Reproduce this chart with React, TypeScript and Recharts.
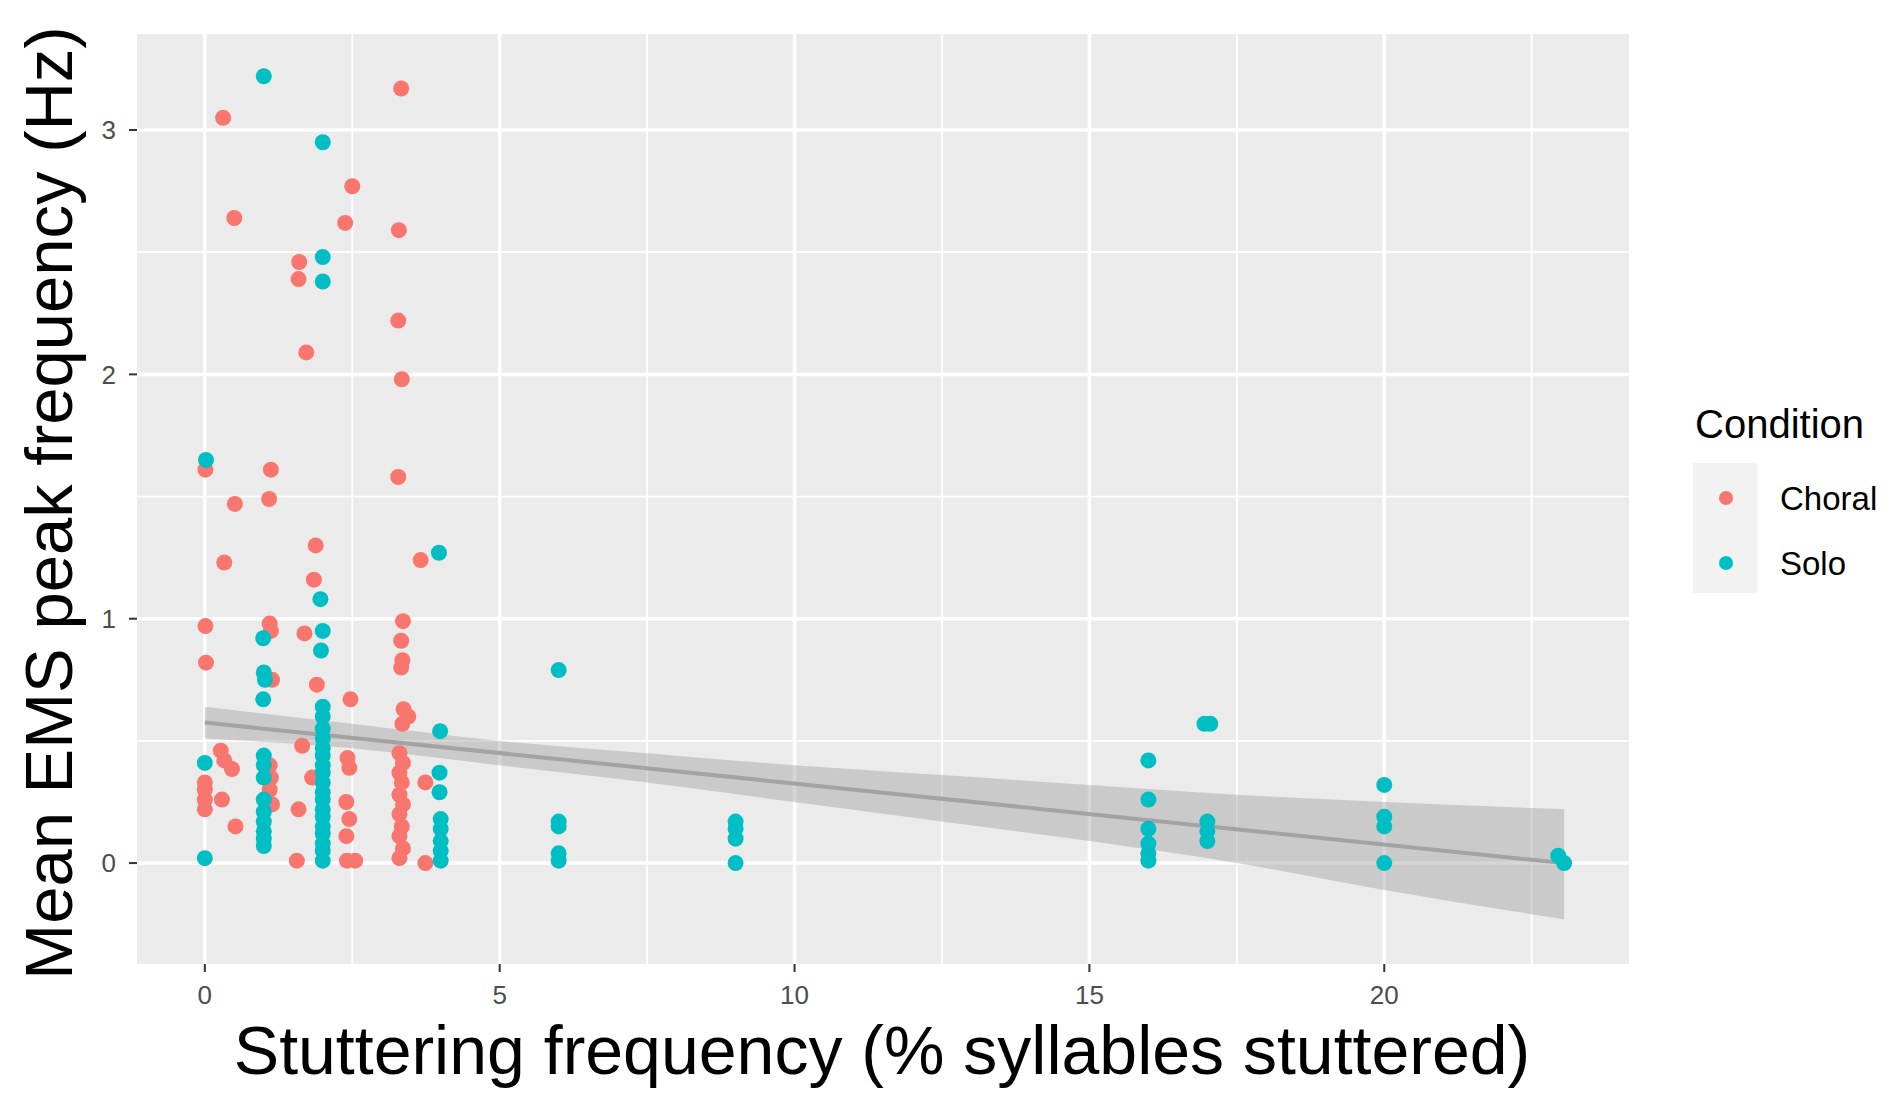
import React from 'react';
import { ComposedChart, Scatter, Area, Line, XAxis, YAxis, CartesianGrid } from 'recharts';

const FONT = '"Liberation Sans", Arial, Helvetica, sans-serif';

const choral = [
  { x: 3.33, y: 3.17 }, { x: 0.31, y: 3.05 }, { x: 2.5, y: 2.77 }, { x: 0.5, y: 2.64 }, { x: 2.38, y: 2.62 },
  { x: 3.29, y: 2.59 }, { x: 1.6, y: 2.46 }, { x: 1.59, y: 2.39 }, { x: 3.28, y: 2.22 }, { x: 1.72, y: 2.09 },
  { x: 3.34, y: 1.98 }, { x: 0.01, y: 1.61 }, { x: 1.12, y: 1.61 }, { x: 3.28, y: 1.58 }, { x: 0.51, y: 1.47 },
  { x: 1.09, y: 1.49 }, { x: 1.88, y: 1.3 }, { x: 3.66, y: 1.24 }, { x: 0.33, y: 1.23 }, { x: 1.85, y: 1.16 },
  { x: 0.01, y: 0.97 }, { x: 1.1, y: 0.98 }, { x: 1.12, y: 0.95 }, { x: 1.69, y: 0.94 }, { x: 3.36, y: 0.99 },
  { x: 3.33, y: 0.91 }, { x: 0.02, y: 0.82 }, { x: 3.35, y: 0.83 }, { x: 3.33, y: 0.8 }, { x: 1.14, y: 0.75 },
  { x: 1.9, y: 0.73 }, { x: 2.47, y: 0.67 }, { x: 3.37, y: 0.63 }, { x: 3.45, y: 0.6 }, { x: 3.35, y: 0.57 },
  { x: 0.27, y: 0.46 }, { x: 0.33, y: 0.42 }, { x: 0.46, y: 0.385 }, { x: 0, y: 0.33 }, { x: 0, y: 0.3 },
  { x: 0, y: 0.26 }, { x: 0, y: 0.22 }, { x: 0.29, y: 0.26 }, { x: 0.52, y: 0.15 },
  { x: 1.1, y: 0.4 }, { x: 1.12, y: 0.35 }, { x: 1.1, y: 0.3 }, { x: 1.14, y: 0.24 },
  { x: 1.65, y: 0.48 }, { x: 1.82, y: 0.35 }, { x: 1.59, y: 0.22 }, { x: 1.56, y: 0.01 },
  { x: 2.42, y: 0.43 }, { x: 2.45, y: 0.39 }, { x: 2.4, y: 0.25 }, { x: 2.45, y: 0.18 }, { x: 2.4, y: 0.11 },
  { x: 2.41, y: 0.01 }, { x: 2.55, y: 0.01 },
  { x: 3.3, y: 0.45 }, { x: 3.36, y: 0.41 }, { x: 3.3, y: 0.37 }, { x: 3.34, y: 0.33 }, { x: 3.3, y: 0.28 },
  { x: 3.36, y: 0.24 }, { x: 3.3, y: 0.2 }, { x: 3.34, y: 0.15 }, { x: 3.3, y: 0.11 }, { x: 3.36, y: 0.06 },
  { x: 3.3, y: 0.02 }, { x: 3.74, y: 0.33 }, { x: 3.74, y: 0.0 },
];

const solo = [
  { x: 1, y: 3.22 }, { x: 2, y: 2.95 }, { x: 2, y: 2.48 }, { x: 2, y: 2.38 }, { x: 0.02, y: 1.65 },
  { x: 3.97, y: 1.27 }, { x: 1.96, y: 1.08 }, { x: 0.99, y: 0.92 }, { x: 2, y: 0.95 }, { x: 1.97, y: 0.87 },
  { x: 1, y: 0.78 }, { x: 1.02, y: 0.75 }, { x: 0.99, y: 0.67 }, { x: 0, y: 0.41 }, { x: 0, y: 0.02 },
  { x: 1, y: 0.44 }, { x: 1, y: 0.4 }, { x: 1, y: 0.35 }, { x: 1, y: 0.26 }, { x: 1, y: 0.21 },
  { x: 1, y: 0.17 }, { x: 1, y: 0.13 }, { x: 1, y: 0.1 }, { x: 1, y: 0.07 },
  { x: 2, y: 0.64 }, { x: 2, y: 0.6 }, { x: 2, y: 0.55 }, { x: 2, y: 0.51 }, { x: 2, y: 0.47 },
  { x: 2, y: 0.44 }, { x: 2, y: 0.4 }, { x: 2, y: 0.37 }, { x: 2, y: 0.33 }, { x: 2, y: 0.29 },
  { x: 2, y: 0.26 }, { x: 2, y: 0.22 }, { x: 2, y: 0.19 }, { x: 2, y: 0.15 }, { x: 2, y: 0.12 },
  { x: 2, y: 0.08 }, { x: 2, y: 0.05 }, { x: 2, y: 0.01 },
  { x: 3.99, y: 0.54 }, { x: 3.98, y: 0.37 }, { x: 3.98, y: 0.29 }, { x: 4, y: 0.18 }, { x: 4, y: 0.14 },
  { x: 4, y: 0.09 }, { x: 4, y: 0.05 }, { x: 4, y: 0.01 },
  { x: 6, y: 0.79 }, { x: 6, y: 0.17 }, { x: 6, y: 0.15 }, { x: 6, y: 0.04 }, { x: 6, y: 0.01 },
  { x: 9, y: 0.17 }, { x: 9, y: 0.14 }, { x: 9, y: 0.1 }, { x: 9, y: 0.0 },
  { x: 16, y: 0.42 }, { x: 16, y: 0.26 }, { x: 16, y: 0.14 }, { x: 16, y: 0.08 }, { x: 16, y: 0.04 },
  { x: 16, y: 0.01 },
  { x: 16.95, y: 0.57 }, { x: 17.05, y: 0.57 }, { x: 17, y: 0.17 }, { x: 17, y: 0.13 }, { x: 17, y: 0.09 },
  { x: 20, y: 0.32 }, { x: 20, y: 0.19 }, { x: 20, y: 0.15 }, { x: 20, y: 0.0 },
  { x: 22.95, y: 0.03 }, { x: 23.05, y: 0.0 },
];

const ribbon = [
  { x: 0, band: [0.51, 0.64] }, { x: 2.5, band: [0.47, 0.57] }, { x: 5, band: [0.4, 0.5] },
  { x: 7.5, band: [0.33, 0.45] }, { x: 10, band: [0.25, 0.4] }, { x: 12.5, band: [0.17, 0.36] },
  { x: 15, band: [0.09, 0.32] }, { x: 17.5, band: [0.0, 0.28] }, { x: 20, band: [-0.11, 0.25] },
  { x: 23.05, band: [-0.23, 0.22] },
];

const fit = [{ x: 0, fit: 0.575 }, { x: 23.05, fit: 0.0 }];

const xTicks = [0, 5, 10, 15, 20];
const yTicks = [0, 1, 2, 3];
const xMinor = [2.5, 7.5, 12.5, 17.5, 22.5];
const yMinor = [0.5, 1.5, 2.5];
const xDomain = [-1.15, 24.15];
const yDomain = [-0.413, 3.393];

const CHORAL = '#F8766D';
const SOLO = '#00BFC4';

const dot = (color: string) => (p: any) => <circle cx={p.cx} cy={p.cy} r={8} fill={color} />;

export default function App() {
  return (
    <div style={{ position: 'absolute', left: 0, top: 0, width: 1902, height: 1102, background: '#fff', fontFamily: FONT }}>
      <ComposedChart width={1902} height={1102} margin={{ top: 34, right: 273, bottom: 0, left: 0 }}>
        <CartesianGrid
          fill="#EBEBEB"
          stroke="#FFFFFF"
          strokeWidth={1.8}
          horizontalValues={yMinor}
          verticalValues={xMinor}
        />
        <CartesianGrid
          stroke="#FFFFFF"
          strokeWidth={3.5}
          horizontalValues={yTicks}
          verticalValues={xTicks}
        />
        <XAxis
          type="number"
          dataKey="x"
          domain={xDomain}
          ticks={xTicks}
          allowDataOverflow
          height={138}
          axisLine={false}
          tickLine={{ stroke: '#333333', strokeWidth: 2 }}
          tickSize={8}
          tickMargin={14}
          tick={{ fill: '#4D4D4D', fontSize: 26, fontFamily: FONT }}
        />
        <YAxis
          type="number"
          domain={yDomain}
          ticks={yTicks}
          allowDataOverflow
          width={137}
          axisLine={false}
          tickLine={{ stroke: '#333333', strokeWidth: 2 }}
          tickSize={8}
          tickMargin={13}
          tick={{ fill: '#4D4D4D', fontSize: 26, fontFamily: FONT }}
        />
        <Scatter data={choral} dataKey="y" fill={CHORAL} shape={dot(CHORAL)} isAnimationActive={false} />
        <Scatter data={solo} dataKey="y" fill={SOLO} shape={dot(SOLO)} isAnimationActive={false} />
        <Area
          data={ribbon}
          dataKey="band"
          type="monotone"
          stroke="none"
          fill="#999999"
          fillOpacity={0.4}
          isAnimationActive={false}
        />
        <Line
          data={fit}
          dataKey="fit"
          type="linear"
          stroke="#A3A3A3"
          strokeWidth={4}
          dot={false}
          activeDot={false}
          isAnimationActive={false}
        />
      </ComposedChart>

      <div style={{ position: 'absolute', left: 48, top: 503, transform: 'translate(-50%, -50%) rotate(-90deg)', whiteSpace: 'nowrap', fontSize: 67, lineHeight: 1, color: '#000' }}>
        Mean EMS peak frequency (Hz)
      </div>
      <div style={{ position: 'absolute', left: 882, top: 1050, transform: 'translate(-50%, -50%)', whiteSpace: 'nowrap', fontSize: 68, lineHeight: 1, color: '#000' }}>
        Stuttering frequency (% syllables stuttered)
      </div>

      <div style={{ position: 'absolute', left: 1695, top: 424, transform: 'translateY(-50%)', fontSize: 40, lineHeight: 1, whiteSpace: 'nowrap', color: '#000' }}>
        Condition
      </div>
      <div style={{ position: 'absolute', left: 1693, top: 463, width: 65, height: 130, background: '#F2F2F2' }} />
      <svg style={{ position: 'absolute', left: 1693, top: 463 }} width={65} height={130}>
        <circle cx={33} cy={35} r={7} fill={CHORAL} />
        <circle cx={33} cy={100} r={7} fill={SOLO} />
      </svg>
      <div style={{ position: 'absolute', left: 1780, top: 498, transform: 'translateY(-50%)', fontSize: 33, lineHeight: 1, whiteSpace: 'nowrap', color: '#000' }}>
        Choral
      </div>
      <div style={{ position: 'absolute', left: 1780, top: 563, transform: 'translateY(-50%)', fontSize: 33, lineHeight: 1, whiteSpace: 'nowrap', color: '#000' }}>
        Solo
      </div>
    </div>
  );
}
